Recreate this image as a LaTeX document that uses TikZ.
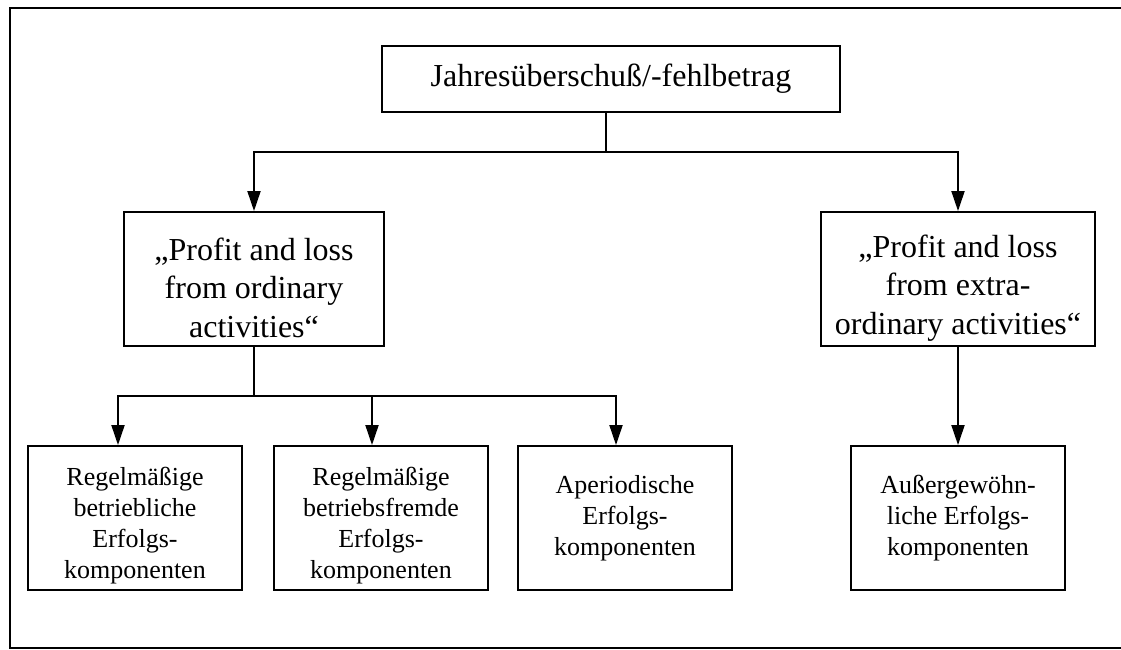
\documentclass[tikz,border=0pt]{standalone}
\usepackage{fontspec}
\setmainfont{Liberation Serif}
\usetikzlibrary{arrows.meta}
% invisible strut that pushes the first text line of a box downwards
\newcommand\firstline[1]{\rule{0pt}{#1}}
\begin{document}
\begin{tikzpicture}[x=1pt,y=-1pt,
  box/.style={draw, line width=1.9pt, align=center, inner sep=0pt},
  link/.style={line width=1.9pt},
  arrowlink/.style={link, -{Triangle[length=20pt,width=13pt]}},
  toptext/.style={font=\fontsize{32}{38}\selectfont},
  midtext/.style={font=\fontsize{32}{38.5}\selectfont},
  lowtext/.style={font=\fontsize{26}{31}\selectfont}]
\useasboundingbox (0,0) rectangle (1121,650);
% outer frame (open on the right)
\draw[line width=1.9pt] (1121,8) -- (10,8) -- (10,648) -- (1121,648);

% boxes
\node[box, toptext, minimum width=458pt, minimum height=66pt] (top) at (611,79)
  {Jahresüberschuß/-fehlbetrag};
\node[box, midtext, minimum width=260pt, minimum height=134pt] (ord) at (254,279)
  {\firstline{40pt}„Profit and loss\\from ordinary\\activities“};
\node[box, midtext, minimum width=274pt, minimum height=134pt] (ext) at (958,279)
  {\firstline{40pt}„Profit and loss\\from extra-\\ordinary activities“};
\node[box, lowtext, minimum width=214pt, minimum height=144pt] (b1) at (135,518)
  {\firstline{34pt}Regelmäßige\\betriebliche\\Erfolgs-\\komponenten};
\node[box, lowtext, minimum width=214pt, minimum height=144pt] (b2) at (381,518)
  {\firstline{34pt}Regelmäßige\\betriebsfremde\\Erfolgs-\\komponenten};
\node[box, lowtext, minimum width=214pt, minimum height=144pt] (b3) at (625,518)
  {Aperiodische\\Erfolgs-\\komponenten};
\node[box, lowtext, minimum width=214pt, minimum height=144pt] (b4) at (958,518)
  {Außergewöhn-\\liche Erfolgs-\\komponenten};

% connectors
\coordinate (hub1) at (606,152);
\draw[link] (top.south -| hub1) -- (hub1);
\draw[arrowlink] (hub1) -| (ord.north);
\draw[arrowlink] (hub1) -| (ext.north);

\coordinate (hub2) at (254,396);
\draw[link] (ord.south) -- (hub2);
\draw[arrowlink] (hub2) -| ([xshift=-17pt]b1.north);
\draw[arrowlink] (hub2) -| ([xshift=-9pt]b2.north);
\draw[arrowlink] (hub2) -| ([xshift=-9pt]b3.north);
\draw[arrowlink] (ext.south) -- (b4.north);
\end{tikzpicture}
\end{document}
